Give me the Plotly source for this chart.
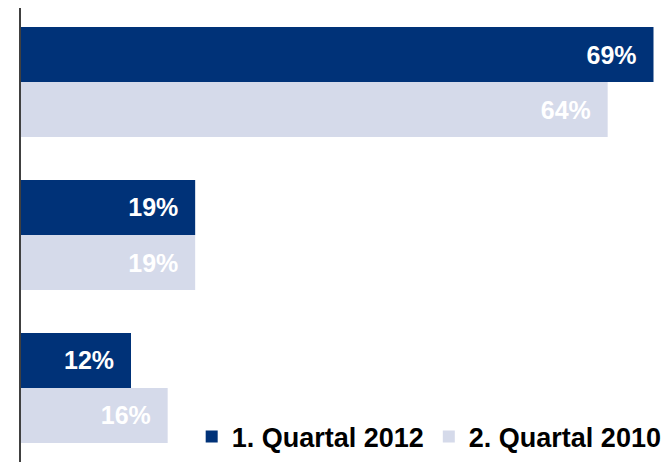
import plotly.graph_objects as go

categories = ["A", "B", "C"]
series_names = ["1. Quartal 2012", "2. Quartal 2010"]
values_2012 = [69, 19, 12]
values_2010 = [64, 19, 16]
colors = ["#003278", "#D5DAEA"]

fig = go.Figure()
for name, vals, col in zip(series_names, [values_2012, values_2010], colors):
    fig.add_trace(go.Bar(
        y=categories, x=vals, name=name, orientation="h",
        marker=dict(color=col, line=dict(width=0)),
        text=[f"{v}%&nbsp;&nbsp;" for v in vals],
        textposition="inside", insidetextanchor="end",
        textfont=dict(family="Liberation Sans", size=25, color="white", weight="bold"),
        cliponaxis=False,
    ))

fig.update_layout(
    width=662, height=454,
    margin=dict(l=13, r=0, t=0, b=0),
    paper_bgcolor="white", plot_bgcolor="white",
    barmode="group", bargap=0.28, bargroupgap=0,
    showlegend=True,
    legend=dict(orientation="h", x=0.263, xanchor="left", y=0.055, yanchor="middle",
                font=dict(family="Liberation Sans", size=27, color="black", weight="bold"),
                bgcolor="rgba(0,0,0,0)", traceorder="normal", itemwidth=30),
    xaxis=dict(range=[0, 70.8], visible=False, fixedrange=True),
    yaxis=dict(range=[2.484, -0.484], showticklabels=False, ticks="", showgrid=False,
               zeroline=False, showline=True, linecolor="#404040", linewidth=2),
)
fig.write_html("out.html")
